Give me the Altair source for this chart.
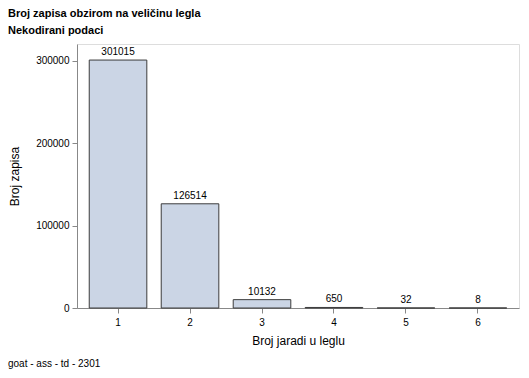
import altair as alt
import pandas as pd

categories = ["1", "2", "3", "4", "5", "6"]
counts = [301015, 126514, 10132, 650, 32, 8]

df = pd.DataFrame({"kat": categories, "broj": counts})

W, H = 442, 264
FONT = "Liberation Sans"

base = alt.Chart(df)

x = alt.X("kat:N", sort=categories,
          scale=alt.Scale(paddingInner=0.2, paddingOuter=0.17),
          axis=alt.Axis(title="Broj jaradi u leglu", labelAngle=0, labelPadding=4,
                        titlePadding=8, titleFontWeight="normal", titleFont=FONT,
                        titleFontSize=12, titleColor="#000"))
y = alt.Y("broj:Q", scale=alt.Scale(domain=[0, 320500], nice=False),
          axis=alt.Axis(title="Broj zapisa", values=[0, 100000, 200000, 300000],
                        format="d", grid=False, titlePadding=14, labelPadding=3,
                        titleFontWeight="normal", titleFont=FONT,
                        titleFontSize=12, titleColor="#000"))

bars = base.mark_bar(fill="#cbd5e5", stroke="#3c3c3c", strokeWidth=1).encode(x=x, y=y)
labels = base.mark_text(baseline="bottom", dy=-3, fontSize=10, font=FONT, color="#000").encode(
    x=alt.X("kat:N", sort=categories), y="broj:Q", text="broj:Q")

foot = alt.Chart(pd.DataFrame({"t": ["goat - ass - td - 2301"]})).mark_text(
    align="left", baseline="middle", fontSize=10, font=FONT, color="#000").encode(
    x=alt.value(-69), y=alt.value(H + 56), text="t:N")

chart = alt.layer(bars, labels, foot).properties(
    width=W, height=H,
    autosize=alt.AutoSizeParams(type="none"),
    padding={"left": 77, "top": 44, "right": 10, "bottom": 70},
    title=alt.TitleParams(text="Broj zapisa obzirom na veličinu legla",
                          subtitle="Nekodirani podaci",
                          anchor="start", frame="group", dx=-69, offset=8,
                          font=FONT, fontSize=11, fontWeight="bold", color="#000",
                          subtitleFont=FONT, subtitleFontSize=11, subtitleFontWeight="bold",
                          subtitleColor="#000", subtitlePadding=6)
).configure_view(stroke="#999999", strokeWidth=1).configure_axis(
    labelFont=FONT, labelFontSize=11,
    labelColor="#000",
    domain=False, tickColor="#999999", tickSize=6
).configure(background="white")

chart.save("out.html", embed_options={"renderer": "svg", "actions": False})
